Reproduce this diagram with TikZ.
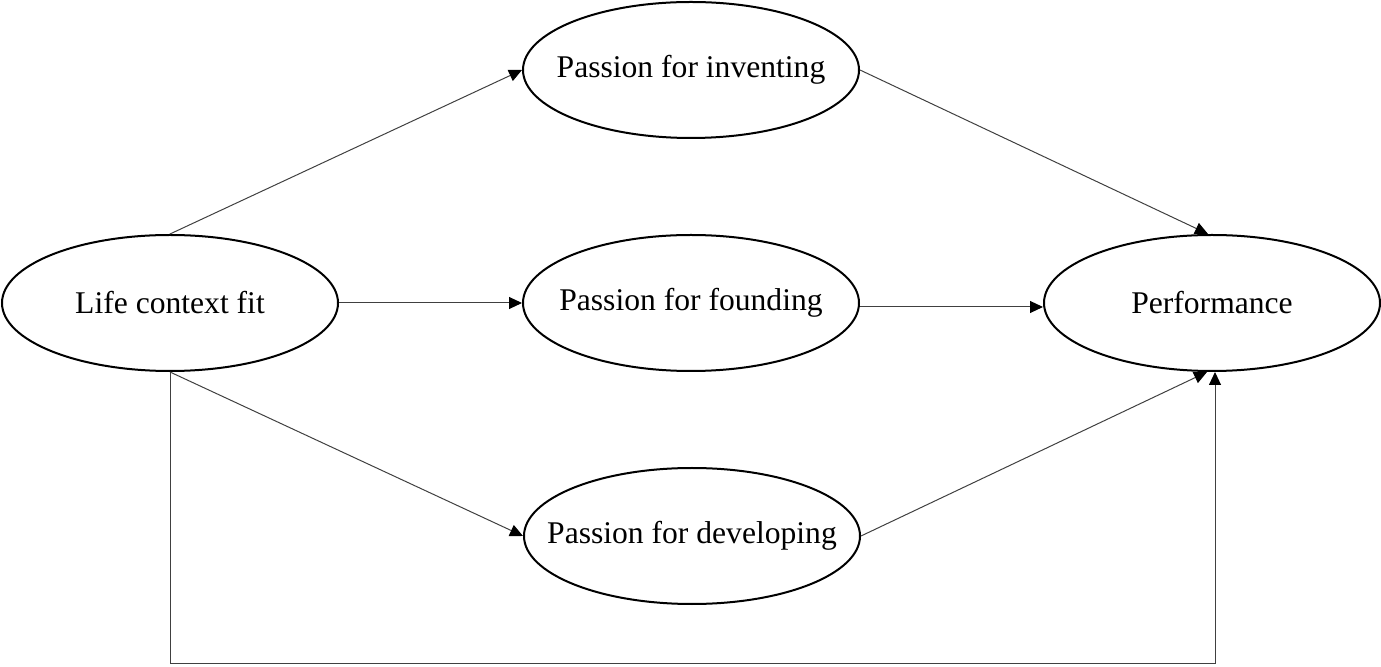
\documentclass[tikz,border=0pt]{standalone}
\usepackage{fontspec}
\setmainfont{Liberation Serif}
\usetikzlibrary{shapes.geometric,arrows.meta}

\begin{document}
\begin{tikzpicture}[x=0.5pt,y=-0.5pt,
  var/.style={ellipse,draw,line width=1pt,minimum width=168pt,minimum height=68pt,inner xsep=-18pt,inner ysep=0pt,font=\fontsize{15.8}{19}\selectfont},
  link/.style={draw=black!75,line width=0.5pt,-{Triangle[length=6.5pt,width=6pt,color=black]}}]
\useasboundingbox (0,0) rectangle (1381,667);

\node[var] (life) at (170,303) {Life context fit};
\node[var] (invent) at (691,70) {Passion for inventing};
\node[var] (found) at (691,303) {Passion for founding};
\node[var] (devel) at (692,536) {Passion for developing};
\node[var] (perf) at (1212,303) {Performance};
\coordinate (base) at (0,663);

\draw[link] (life.north) -- (invent.west);
\draw[link] (life.east) -- (found.west);
\draw[link] (life.south) -- (devel.west);
\draw[link] (invent.east) -- ([xshift=-2pt]perf.north);
\draw[link] ([yshift=-2pt]found.east) -- ([yshift=-2pt]perf.west);
\draw[link] (devel.east) -- ([xshift=-2.5pt]perf.south);
\draw[link] (life.south) -- (life.south |- base) -| ([xshift=1.5pt]perf.south);
	
\end{tikzpicture}
\end{document}
